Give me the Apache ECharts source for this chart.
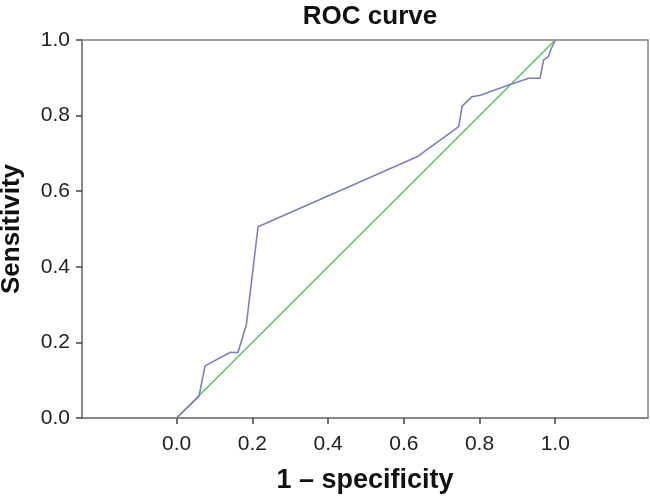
<!DOCTYPE html>
<html>
<head>
<meta charset="utf-8">
<script src="https://cdn.jsdelivr.net/npm/echarts@6/dist/echarts.min.js"></script>
<style>html,body{margin:0;padding:0;background:#fff;}#c{width:650px;height:497px;}</style>
</head>
<body>
<div id="c"></div>
<script>
const rocX = [0, 0.059, 0.075, 0.142, 0.162, 0.184, 0.215, 0.635, 0.745, 0.754, 0.780, 0.802, 0.877, 0.930, 0.960, 0.969, 0.982, 0.988, 1.0];
const rocY = [0, 0.058, 0.138, 0.174, 0.173, 0.246, 0.506, 0.691, 0.771, 0.825, 0.850, 0.854, 0.881, 0.899, 0.899, 0.947, 0.956, 0.974, 1.0];
const refX = [0, 1];
const refY = [0, 1];
const tickVals = [0, 0.2, 0.4, 0.6, 0.8, 1.0];

const chart = echarts.init(document.getElementById('c'));
const font = 'Liberation Sans, Arial, sans-serif';
chart.setOption({
  animation: false,
  title: {
    text: 'ROC curve', left: 365, top: -1, textAlign: 'center',
    textStyle: {fontFamily: font, fontSize: 26, fontWeight: 'bold', color: '#111'}
  },
  grid: {left: 82, right: 2, top: 40, bottom: 79, outerBoundsMode: 'none', containLabel: false,
    show: true, borderColor: '#808080', borderWidth: 1.5, backgroundColor: '#fff'},
  xAxis: {
    type: 'value', min: -0.25, max: 1.245,
    name: '1 – specificity', nameLocation: 'middle', nameGap: 49,
    nameTextStyle: {fontFamily: font, fontSize: 27, fontWeight: 'bold', color: '#111'},
    axisLine: {show: true, onZero: false, lineStyle: {color: '#808080', width: 1.5}},
    axisTick: {show: true, customValues: tickVals, length: 6, lineStyle: {color: '#444', width: 1.5}},
    axisLabel: {customValues: tickVals, fontFamily: font, fontSize: 21, color: '#222', margin: 16,
      formatter: v => v.toFixed(1)},
    splitLine: {show: false}
  },
  yAxis: {
    type: 'value', min: 0, max: 1, interval: 0.2,
    name: 'Sensitivity', nameLocation: 'middle', nameGap: 57,
    nameTextStyle: {fontFamily: font, fontSize: 26, fontWeight: 'bold', color: '#111'},
    axisLine: {show: true, onZero: false, lineStyle: {color: '#808080', width: 1.5}},
    axisTick: {show: true, length: 6, lineStyle: {color: '#444', width: 1.5}},
    axisLabel: {fontFamily: font, fontSize: 21, color: '#222', margin: 12, formatter: v => v.toFixed(1)},
    splitLine: {show: false}
  },
  series: [
    {type: 'line', data: refX.map((x, i) => [x, refY[i]]), showSymbol: false,
      lineStyle: {color: '#5ec46a', width: 1.6}, z: 2},
    {type: 'line', data: rocX.map((x, i) => [x, rocY[i]]), showSymbol: false,
      lineStyle: {color: '#7a7fc4', width: 1.6}, z: 3}
  ]
});
</script>
</body>
</html>
